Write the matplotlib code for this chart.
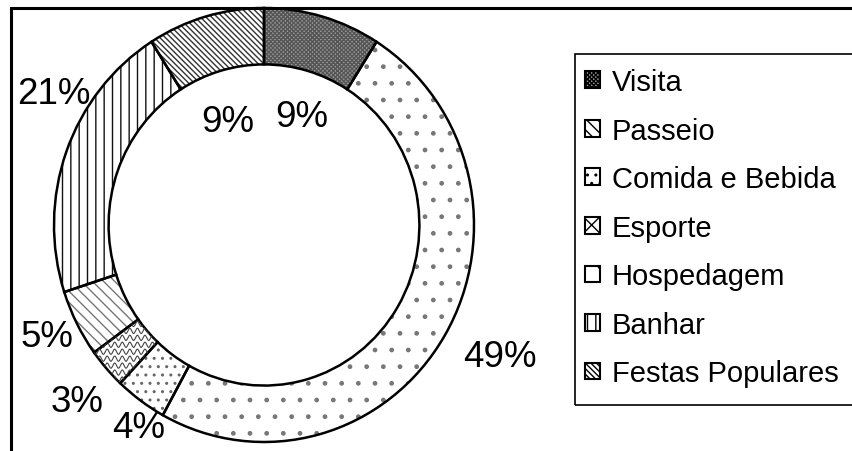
import matplotlib
matplotlib.use('Agg')
import matplotlib.pyplot as plt
from matplotlib.patches import Patch, Rectangle
import numpy as np

# ---- data ----
categories = ['Visita', 'Passeio', 'Comida e Bebida', 'Esporte',
              'Hospedagem', 'Banhar', 'Festas Populares']
values = [9, 5, 4, 3, 49, 21, 9]
# clockwise drawing order of the ring, starting at 12 o'clock
ring_order = ['Visita', 'Hospedagem', 'Comida e Bebida', 'Esporte',
              'Passeio', 'Banhar', 'Festas Populares']

# ---- styles ----
plt.rcParams['font.family'] = ['Liberation Sans', 'DejaVu Sans']
plt.rcParams['hatch.linewidth'] = 1.0
styles = {
    'Visita':           dict(face='#9a9a9a', hatch='xxxxxxxx', hc='#555555'),
    'Passeio':          dict(face='white',   hatch='\\\\\\',  hc='#777777'),
    'Comida e Bebida':  dict(face='white',   hatch='..',     hc='#666666'),
    'Esporte':          dict(face='white',   hatch='',       hc='#444444'),
    'Hospedagem':       dict(face='white',   hatch='.',      hc='#777777'),
    'Banhar':           dict(face='white',   hatch='||',     hc='#111111'),
    'Festas Populares': dict(face='white',   hatch='\\\\\\\\\\\\', hc='#333333'),
}
# label anchor points (pixel centres in the 853x452 canvas)
label_px = {
    'Visita': (302, 114), 'Hospedagem': (500, 354), 'Comida e Bebida': (139, 425),
    'Esporte': (77, 399), 'Passeio': (47, 334), 'Banhar': (54, 91),
    'Festas Populares': (228, 118),
}

W, H = 853, 452
fig = plt.figure(figsize=(W / 100, H / 100), dpi=100)

ax = fig.add_axes([54 / W, (H - 443) / H, 420 / W, 434 / H])
vals = [values[categories.index(c)] for c in ring_order]
wedges, _ = ax.pie(vals, startangle=90, counterclock=False, radius=1,
                   wedgeprops=dict(width=0.26, linewidth=0))
for w, c in zip(wedges, ring_order):
    s = styles[c]
    w.set_facecolor(s['face'])
    w.set_edgecolor(s['hc'])
    w.set_hatch(s['hatch'])
    w.set_linewidth(0)

# wavy texture for Esporte
esp = wedges[ring_order.index('Esporte')]
xs = np.linspace(-1, 1, 1500)
for y0 in np.arange(-1.0, 1.0, 0.032):
    ln, = ax.plot(xs, y0 + 0.012 * np.sin(xs * 2 * np.pi / 0.036),
                  color=styles['Esporte']['hc'], lw=0.8)
    ln.set_clip_path(esp)

# outlines
outl, _ = ax.pie(vals, startangle=90, counterclock=False, radius=1,
                 wedgeprops=dict(width=0.26, facecolor='none',
                                 edgecolor='black', linewidth=1.8))
ax.set_aspect('auto')
ax.set_xlim(-1, 1)
ax.set_ylim(-1, 1)
ax.axis('off')

# percentage labels
total = sum(values)
for c in ring_order:
    v = values[categories.index(c)]
    x, y = label_px[c]
    fig.text(x / W, 1 - (y + 13.5) / H, f'{round(100 * v / total)}%',
             ha='center', va='baseline', fontsize=26.5)

# legend
handles = [Patch(facecolor=styles[c]['face'], edgecolor='black',
                 hatch=styles[c]['hatch'] or 'xx', linewidth=1.5)
           for c in categories]
fig.legend(handles, categories, loc='upper left',
           bbox_to_anchor=(585 / W, 1 - 69 / H), frameon=False,
           fontsize=21, handlelength=0.5, handleheight=0.5,
           handletextpad=0.42, labelspacing=0.705, borderpad=0,
           borderaxespad=0)
fig.patches.append(Rectangle((575 / W, 1 - 406 / H), 0.5, (406 - 55) / H,
                             transform=fig.transFigure, fill=False,
                             edgecolor='black', linewidth=1.2))
# outer chart border
fig.patches.append(Rectangle((11 / W, -0.2), 1.2, 1.2 - 9 / H,
                             transform=fig.transFigure, fill=False,
                             edgecolor='black', linewidth=2.2))

fig.savefig('out.png', dpi=100)
